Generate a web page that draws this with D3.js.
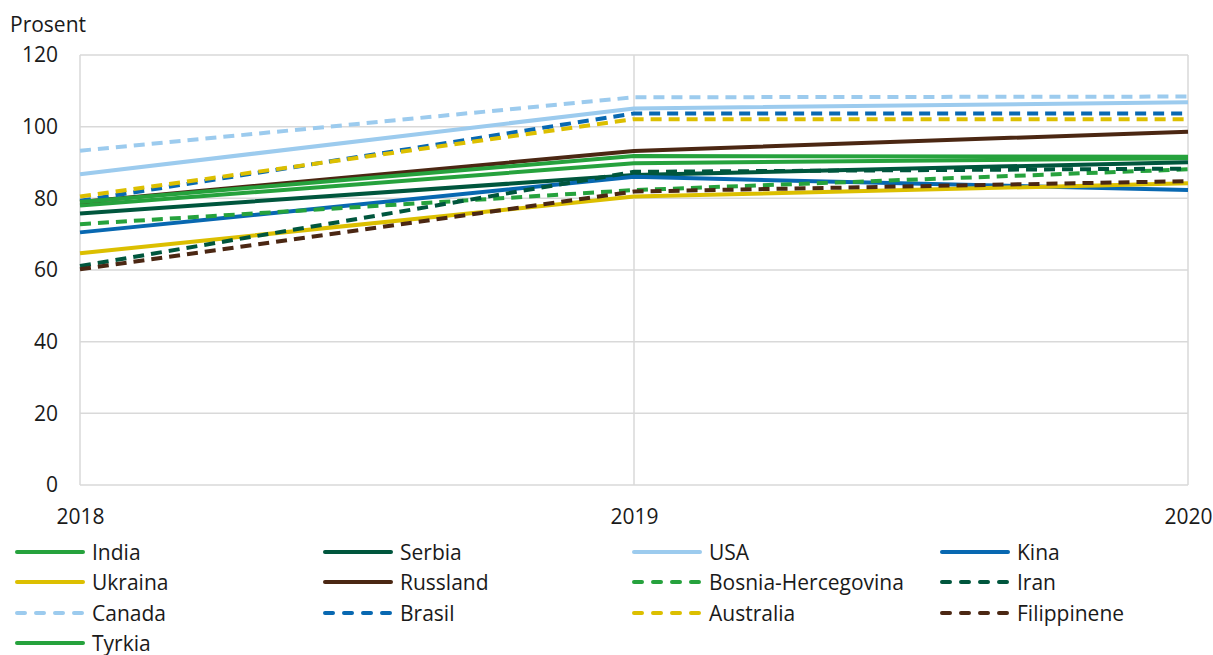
<!DOCTYPE html>
<html>
<head>
<meta charset="utf-8">
<script src="https://cdn.jsdelivr.net/npm/d3@7"></script>
<style>
  body { margin: 0; background: #fff; }
  svg { display: block; font-family: "Open Sans", "Noto Sans", sans-serif; }
</style>
</head>
<body>
<svg id="chart" width="1213" height="655"></svg>
<script>
// Years on the x axis
const years = [2018, 2019, 2020];

// Series names, in legend order
const names = ["India", "Serbia", "USA", "Kina", "Ukraina", "Russland",
  "Bosnia-Hercegovina", "Iran", "Canada", "Brasil", "Australia", "Filippinene", "Tyrkia"];

// Values (prosent) per series, 2018–2020
const india       = [78.0, 89.8, 91.2];
const serbia      = [75.8, 86.5, 90.1];
const usa         = [86.7, 105.1, 106.8];
const kina        = [70.5, 86.0, 82.3];
const ukraina     = [64.7, 80.5, 84.2];
const russland    = [79.0, 93.2, 98.6];
const bosnia      = [72.8, 82.3, 88.1];
const iran        = [61.1, 87.4, 88.3];
const canada      = [93.3, 108.2, 108.4];
const brasil      = [79.3, 103.7, 103.7];
const australia   = [80.5, 102.1, 102.1];
const filippinene = [60.2, 81.9, 84.8];
const tyrkia      = [79.0, 91.8, 91.6];

const seriesValues = [india, serbia, usa, kina, ukraina, russland,
  bosnia, iran, canada, brasil, australia, filippinene, tyrkia];

const colors = ["#26a23d", "#00563d", "#9ccbee", "#0868b1", "#dcbf00", "#4b2713",
  "#26a23d", "#00563d", "#9ccbee", "#0868b1", "#dcbf00", "#4b2713", "#26a23d"];
const dashed = [false, false, false, false, false, false,
  true, true, true, true, true, true, false];

const yTicks = [0, 20, 40, 60, 80, 100, 120];

const svg = d3.select("#chart");
const plotLeft = 80, plotRight = 1188, plotTop = 55, plotBottom = 485;
const fontSize = 21;
const textColor = "#1a1a1a";

const x = d3.scalePoint().domain(years).range([plotLeft, plotRight]);
const y = d3.scaleLinear().domain([0, 120]).range([plotBottom, plotTop]);

const grid = "#d9d9d9";

// Horizontal gridlines
svg.append("g").selectAll("line").data(yTicks).join("line")
  .attr("x1", plotLeft).attr("x2", plotRight)
  .attr("y1", d => y(d)).attr("y2", d => y(d))
  .attr("stroke", grid).attr("stroke-width", 1.5);

// Vertical gridlines at each year
svg.append("g").selectAll("line").data(years).join("line")
  .attr("x1", d => x(d)).attr("x2", d => x(d))
  .attr("y1", plotTop).attr("y2", plotBottom)
  .attr("stroke", grid).attr("stroke-width", 1.5);

// Y axis labels
const yAxis = svg.append("g").attr("transform", `translate(${plotLeft},0)`)
  .call(d3.axisLeft(y).tickValues(yTicks).tickSize(0).tickPadding(22));
yAxis.select(".domain").remove();
yAxis.selectAll("text").attr("font-size", fontSize).attr("fill", textColor)
  .attr("font-family", "'Open Sans', 'Noto Sans', sans-serif");

// X axis labels
const xAxis = svg.append("g").attr("transform", `translate(0,${plotBottom})`)
  .call(d3.axisBottom(x).tickSize(0).tickPadding(24).tickFormat(d3.format("d")));
xAxis.select(".domain").remove();
xAxis.selectAll("text").attr("font-size", fontSize).attr("fill", textColor)
  .attr("font-family", "'Open Sans', 'Noto Sans', sans-serif");

svg.append("text").attr("x", 10).attr("y", 32)
  .attr("font-size", fontSize).attr("fill", textColor).text("Prosent");

// Lines
const line = d3.line().x((d, i) => x(years[i])).y(d => y(d));
svg.append("g").selectAll("path").data(seriesValues).join("path")
  .attr("d", line)
  .attr("fill", "none")
  .attr("stroke", (d, i) => colors[i])
  .attr("stroke-width", 4)
  .attr("stroke-dasharray", (d, i) => dashed[i] ? "11,7" : null);

// Legend: 4 columns
const colX = [15, 323, 632, 940];
const rowY = [552, 582, 613, 643];
const leg = svg.append("g").selectAll("g").data(names).join("g")
  .attr("transform", (d, i) => `translate(${colX[i % 4]},${rowY[Math.floor(i / 4)]})`);
leg.append("line")
  .attr("x1", 2).attr("x2", 68).attr("y1", 0).attr("y2", 0)
  .attr("stroke", (d, i) => colors[i])
  .attr("stroke-width", 4)
  .attr("stroke-linecap", "round")
  .attr("stroke-dasharray", (d, i) => dashed[i] ? "8,11" : null);
leg.append("text")
  .attr("x", 77).attr("y", 8)
  .attr("font-size", fontSize).attr("fill", textColor)
  .text(d => d);
</script>
</body>
</html>
